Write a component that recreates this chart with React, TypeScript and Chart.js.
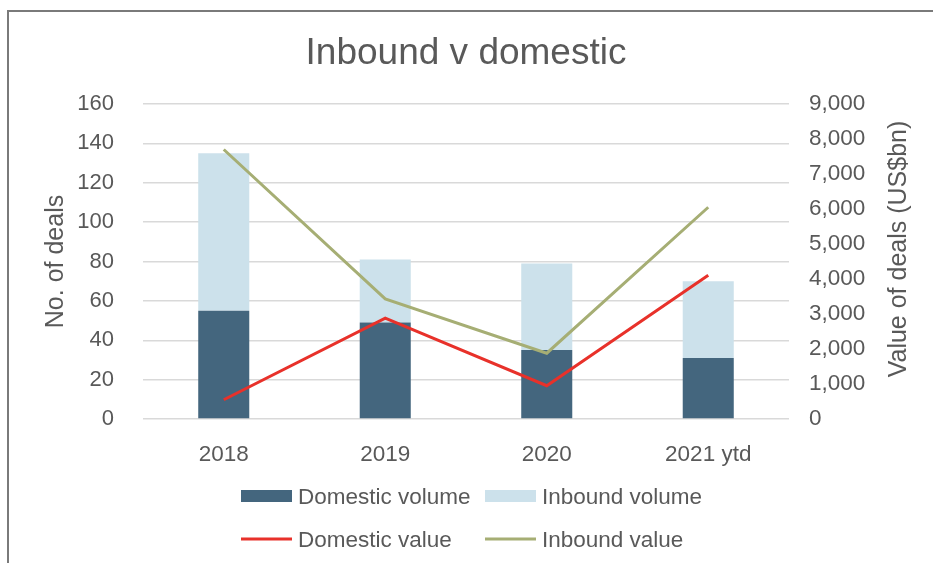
import React, { useEffect, useRef } from 'react';
import { Chart, registerables } from 'chart.js';

Chart.register(...registerables);

const categories = ['2018', '2019', '2020', '2021 ytd'];
const domesticVolume = [55, 49, 35, 31];
const inboundVolume = [80, 32, 44, 39];
const domesticValue = [550, 2880, 950, 4110];
const inboundValue = [7700, 3430, 1880, 6050];

const titleText = 'Inbound v domestic';
const leftAxisTitle = 'No. of deals';
const rightAxisTitle = 'Value of deals (US$bn)';
const seriesNames = ['Domestic volume', 'Inbound volume', 'Domestic value', 'Inbound value'];

const FONT = "'Liberation Sans', Arial, Helvetica, sans-serif";
const TEXT = '#595959';
const DARK = '#44667E';
const LIGHT = '#CCE1EB';
const RED = '#E8312A';
const GREEN = '#A6AE74';
const GRID = '#D9D9D9';

const decorPlugin = {
  id: 'decor',
  afterDraw(chart: any) {
    const ctx = chart.ctx as CanvasRenderingContext2D;
    const a = chart.chartArea;
    ctx.save();
    ctx.fillStyle = TEXT;
    // title
    ctx.font = `37px ${FONT}`;
    ctx.textAlign = 'center';
    ctx.textBaseline = 'alphabetic';
    ctx.fillText(titleText, (a.left + a.right) / 2, 64);

    // axis titles
    ctx.font = `25px ${FONT}`;
    ctx.textBaseline = 'middle';
    ctx.save();
    ctx.translate(56, (a.top + a.bottom) / 2);
    ctx.rotate(-Math.PI / 2);
    ctx.fillText(leftAxisTitle, 0, 0);
    ctx.restore();
    ctx.save();
    ctx.translate(899, 249);
    ctx.rotate(-Math.PI / 2);
    ctx.fillText(rightAxisTitle, 0, 0);
    ctx.restore();

    // legend
    const cols = [241, 485];
    const rows = [504, 547];
    ctx.font = `22.5px ${FONT}`;
    ctx.textAlign = 'left';
    ctx.textBaseline = 'alphabetic';
    chart.data.datasets.forEach((ds: any, i: number) => {
      const x = cols[i % 2];
      const base = rows[Math.floor(i / 2)];
      const mid = base - 8;
      if (ds.type === 'line') {
        ctx.strokeStyle = ds.borderColor;
        ctx.lineWidth = 3;
        ctx.beginPath();
        ctx.moveTo(x, mid);
        ctx.lineTo(x + 51, mid);
        ctx.stroke();
      } else {
        ctx.fillStyle = ds.backgroundColor;
        ctx.fillRect(x, mid - 6, 51, 12);
      }
      ctx.fillStyle = TEXT;
      ctx.fillText(ds.label, x + 57, base);
    });
    ctx.restore();
  },
};

export default function App() {
  const ref = useRef<HTMLCanvasElement>(null);
  useEffect(() => {
    document.body.style.margin = '0';
    const chart = new Chart(ref.current!, {
      type: 'bar',
      data: {
        labels: categories,
        datasets: [
          {
            type: 'bar',
            label: seriesNames[0],
            data: domesticVolume,
            backgroundColor: DARK,
            yAxisID: 'y',
            order: 1,
            barPercentage: 0.316,
            categoryPercentage: 1,
          },
          {
            type: 'bar',
            label: seriesNames[1],
            data: inboundVolume,
            backgroundColor: LIGHT,
            yAxisID: 'y',
            order: 1,
            barPercentage: 0.316,
            categoryPercentage: 1,
          },
          {
            type: 'line',
            label: seriesNames[2],
            data: domesticValue,
            borderColor: RED,
            backgroundColor: RED,
            borderWidth: 3,
            pointRadius: 0,
            yAxisID: 'y1',
            order: 0,
          },
          {
            type: 'line',
            label: seriesNames[3],
            data: inboundValue,
            borderColor: GREEN,
            backgroundColor: GREEN,
            borderWidth: 3,
            pointRadius: 0,
            yAxisID: 'y1',
            order: 0,
          },
        ] as any,
      },
      options: {
        responsive: false,
        animation: false,
        layout: { padding: { top: 104, left: 0, right: 0, bottom: 0 } },
        plugins: {
          legend: { display: false },
          title: { display: false },
          tooltip: { enabled: false },
        },
        scales: {
          x: {
            stacked: true,
            grid: { display: false },
            border: { display: false },
            ticks: { font: { size: 22.5, family: FONT }, color: TEXT, padding: 14 },
            afterFit: (s: any) => {
              s.height = 144;
            },
          },
          y: {
            position: 'left',
            stacked: true,
            min: 0,
            max: 160,
            grid: { color: GRID, lineWidth: 1.5, drawTicks: false },
            border: { display: false },
            ticks: { stepSize: 20, font: { size: 22, family: FONT }, color: TEXT, padding: 29 },
            afterFit: (s: any) => {
              s.width = 143;
            },
          },
          y1: {
            position: 'right',
            stacked: false,
            min: 0,
            max: 9000,
            grid: { drawOnChartArea: false, drawTicks: false },
            border: { display: false },
            ticks: {
              stepSize: 1000,
              font: { size: 22.5, family: FONT },
              color: TEXT,
              padding: 20,
              callback: (v: any) => Number(v).toLocaleString('en-US'),
            },
            afterFit: (s: any) => {
              s.width = 144;
            },
          },
        },
      } as any,
      plugins: [decorPlugin],
    });
    return () => chart.destroy();
  }, []);

  return (
    <div style={{ position: 'relative', width: 933, height: 563, overflow: 'hidden', background: '#fff' }}>
      <div
        style={{
          position: 'absolute',
          left: 7,
          top: 10,
          width: 2000,
          height: 2000,
          border: '2px solid #7a7a7a',
          boxSizing: 'border-box',
        }}
      />
      <canvas ref={ref} width={933} height={563} style={{ position: 'absolute', left: 0, top: 0 }} />
    </div>
  );
}
